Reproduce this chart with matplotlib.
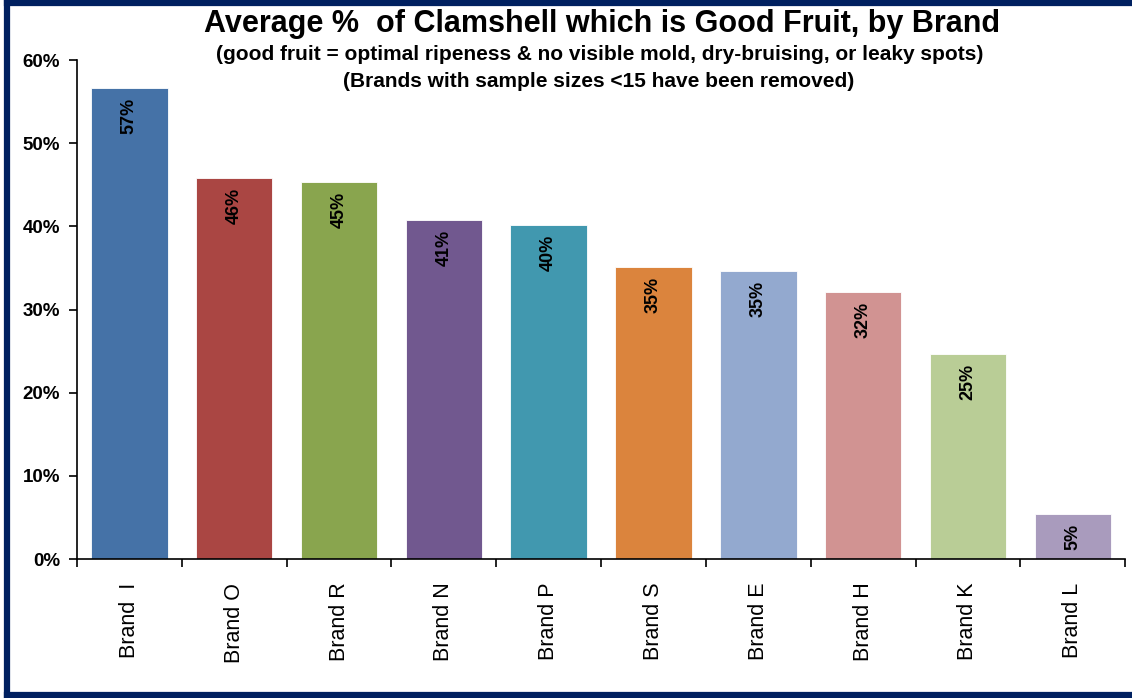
import numpy as np
import matplotlib.pyplot as plt
from matplotlib.lines import Line2D

plt.rcParams['font.family'] = ['Liberation Sans', 'DejaVu Sans']

# data
brands = ['Brand  I', 'Brand O', 'Brand R', 'Brand N', 'Brand P',
          'Brand S', 'Brand E', 'Brand H', 'Brand K', 'Brand L']
good_pct = [56.6, 45.8, 45.3, 40.8, 40.2, 35.1, 34.6, 32.1, 24.6, 5.4]
bar_colors = ['#4572A7', '#AA4643', '#89A54E', '#71588F', '#4198AF',
              '#DB843D', '#93A9CF', '#D19392', '#B9CD96', '#A99BBD']

fig = plt.figure(figsize=(11.32, 6.98), dpi=100)
ax = fig.add_axes([0.068, 0.199, 0.926, 0.715])

x = np.arange(len(brands))
bars = ax.bar(x, good_pct, width=0.73, color=bar_colors,
              edgecolor='white', linewidth=0.6)

# value labels, rotated, just inside the top of each bar
for b, v in zip(bars, good_pct):
    ax.annotate(f'{v:.0f}%', (b.get_x() + b.get_width() / 2, v),
                xytext=(0, -7), textcoords='offset points',
                ha='center', va='top', rotation=90,
                fontsize=13, fontweight='bold', color='black')

ax.set_xlim(-0.5, len(brands) - 0.5)
ax.set_ylim(0, 60)
ax.set_yticks(range(0, 61, 10))
ax.set_yticklabels([f'{t}%' for t in range(0, 61, 10)],
                   fontsize=13.5, fontweight='bold')

# category labels between boundary ticks
ax.set_xticks(x)
ax.set_xticklabels(brands, rotation=90, fontsize=15.5)
ax.tick_params(axis='x', length=0, pad=17)
ax.set_xticks(np.arange(-0.5, len(brands)), minor=True)
ax.tick_params(axis='x', which='minor', length=6, width=1.2, direction='out')
ax.tick_params(axis='y', length=6, width=1.2, direction='out', pad=6)

for side in ['top', 'right']:
    ax.spines[side].set_visible(False)
ax.spines['left'].set_linewidth(1.2)
ax.spines['bottom'].set_linewidth(1.2)

fig.text(0.532, 0.965, 'Average %  of Clamshell which is Good Fruit, by Brand',
         ha='center', va='center', fontsize=22, fontweight='bold')
fig.text(0.530, 0.922,
         '(good fruit = optimal ripeness & no visible mold, dry-bruising, or leaky spots)',
         ha='center', va='center', fontsize=15, fontweight='bold')
fig.text(0.529, 0.883, '(Brands with sample sizes <15 have been removed)',
         ha='center', va='center', fontsize=15, fontweight='bold')

# dark border on left, top and bottom (cut off on the right)
navy = '#002060'
bx, by0, by1 = 7 / 1132, 3 / 698, 695 / 698
for xs, ys in [([bx, bx], [by0, by1]), ([bx, 1], [by1, by1]), ([bx, 1], [by0, by0])]:
    fig.lines.append(Line2D(xs, ys, transform=fig.transFigure,
                            color=navy, linewidth=4.5, solid_capstyle='projecting'))

fig.savefig('out.png', dpi=100)
